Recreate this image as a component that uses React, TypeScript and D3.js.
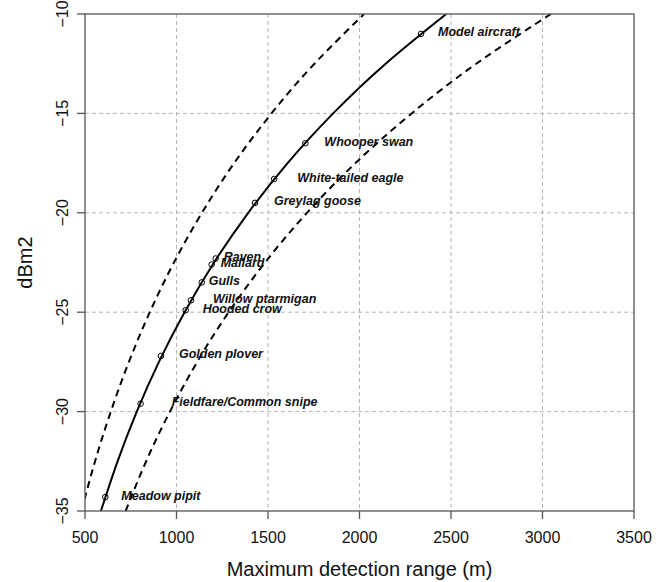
import * as d3 from "d3";

// Curves, every 2.5 dBm2
const curveDb = [-35, -32.5, -30, -27.5, -25, -22.5, -20, -17.5, -15, -12.5, -10];
const rangeMean = [587, 678, 783, 904, 1044, 1205, 1392, 1607, 1856, 2143, 2474];
const rangeLower = [480, 555, 641, 740, 854, 986, 1139, 1315, 1519, 1754, 2025];
const rangeUpper = [722, 834, 964, 1113, 1285, 1484, 1713, 1978, 2285, 2638, 3046];

// Targets
const targetNames = [
  "Model aircraft",
  "Whooper swan",
  "White-tailed eagle",
  "Greylag goose",
  "Raven",
  "Mallard",
  "Gulls",
  "Willow ptarmigan",
  "Hooded crow",
  "Golden plover",
  "Fieldfare/Common snipe",
  "Meadow pipit",
];
const targetRange = [2336, 1704, 1534, 1429, 1214, 1192, 1138, 1079, 1050, 915, 804, 611];
const targetDb = [-11.0, -16.5, -18.3, -19.5, -22.3, -22.6, -23.5, -24.4, -24.9, -27.2, -29.6, -34.3];

// label nudges (px to the right of each point)
const labelDx = [17, 19, 23, 19, 8, 9, 7, 22, 17, 18, 31, 16];

const xTicks = [500, 1000, 1500, 2000, 2500, 3000, 3500];
const yTicks = [-35, -30, -25, -20, -15, -10];

const W = 670;
const H = 582;
const plot = { left: 85, right: 634, top: 14, bottom: 511 };
const FONT = "'Liberation Sans', Arial, Helvetica, sans-serif";
const AXIS = "#555";
const GRID = "#b5b5b5";

export default function App() {
  const x = d3.scaleLinear().domain([500, 3500]).range([plot.left, plot.right]);
  const y = d3.scaleLinear().domain([-35, -10]).range([plot.bottom, plot.top]);

  const line = d3
    .line<number>()
    .x((r) => x(r))
    .y((_, i) => y(curveDb[i]))
    .curve(d3.curveNatural);

  const fmt = (v: number) => String(v).replace("-", "\u2212");

  return (
    <svg
      width={W}
      height={H}
      style={{ position: "absolute", left: 0, top: 0, background: "#fff" }}
      fontFamily={FONT}
    >
      <defs>
        <clipPath id="plot-clip">
          <rect
            x={plot.left}
            y={plot.top}
            width={plot.right - plot.left}
            height={plot.bottom - plot.top}
          />
        </clipPath>
      </defs>

      {/* grid */}
      <g stroke={GRID} strokeWidth={1} strokeDasharray="4,3">
        {xTicks.slice(1, -1).map((t) => (
          <line key={"gx" + t} x1={x(t)} x2={x(t)} y1={plot.top} y2={plot.bottom} />
        ))}
        {yTicks.slice(1, -1).map((t) => (
          <line key={"gy" + t} x1={plot.left} x2={plot.right} y1={y(t)} y2={y(t)} />
        ))}
      </g>

      {/* curves */}
      <g clipPath="url(#plot-clip)" fill="none" stroke="#000" strokeWidth={2}>
        <path d={line(rangeLower) ?? ""} strokeDasharray="7,5" />
        <path d={line(rangeUpper) ?? ""} strokeDasharray="7,5" />
        <path d={line(rangeMean) ?? ""} />
      </g>

      {/* points + labels */}
      <g>
        {targetNames.map((name, i) => (
          <g key={name}>
            <circle
              cx={x(targetRange[i])}
              cy={y(targetDb[i])}
              r={2.8}
              fill="none"
              stroke="#000"
              strokeWidth={1}
            />
            <text
              x={x(targetRange[i]) + labelDx[i]}
              y={y(targetDb[i]) - 1.5}
              dominantBaseline="central"
              fontSize={12.5}
              fontWeight="bold"
              fontStyle="italic"
              fill="#111"
            >
              {name}
            </text>
          </g>
        ))}
      </g>

      {/* box */}
      <rect
        x={plot.left}
        y={plot.top}
        width={plot.right - plot.left}
        height={plot.bottom - plot.top}
        fill="none"
        stroke={AXIS}
        strokeWidth={1.3}
      />

      {/* x axis */}
      <g>
        {xTicks.map((t) => (
          <g key={"xt" + t}>
            <line x1={x(t)} x2={x(t)} y1={plot.bottom} y2={plot.bottom + 8} stroke={AXIS} strokeWidth={1.3} />
            <text x={x(t)} y={537} textAnchor="middle" dominantBaseline="central" fontSize={16} fill="#111">
              {t}
            </text>
          </g>
        ))}
        <text x={(plot.left + plot.right) / 2} y={569} textAnchor="middle" dominantBaseline="central" fontSize={20} fill="#111">
          Maximum detection range (m)
        </text>
      </g>

      {/* y axis */}
      <g>
        {yTicks.map((t) => (
          <g key={"yt" + t}>
            <line x1={plot.left - 8} x2={plot.left} y1={y(t)} y2={y(t)} stroke={AXIS} strokeWidth={1.3} />
            <text
              transform={`translate(62,${y(t)}) rotate(-90)`}
              textAnchor="middle"
              dominantBaseline="central"
              fontSize={16}
              fill="#111"
            >
              {fmt(t)}
            </text>
          </g>
        ))}
        <text
          transform={`translate(25,${(plot.top + plot.bottom) / 2}) rotate(-90)`}
          textAnchor="middle"
          dominantBaseline="central"
          fontSize={20}
          fill="#111"
        >
          dBm2
        </text>
      </g>
    </svg>
  );
}
